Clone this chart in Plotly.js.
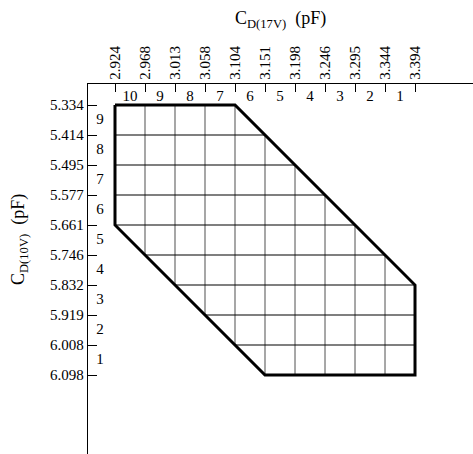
<!DOCTYPE html>
<html>
<head>
<meta charset="utf-8">
<script src="https://cdn.plot.ly/plotly-3.0.1.min.js"></script>
<style>html,body{margin:0;padding:0;background:#fff;}#chart{width:473px;height:454px;}</style>
</head>
<body>
<div id="chart"></div>
<script>
// Tick labels (capacitance values, pF)
const xTicks = ['2.924','2.968','3.013','3.058','3.104','3.151','3.198','3.246','3.295','3.344','3.394'];
const yTicks = ['5.334','5.414','5.495','5.577','5.661','5.746','5.832','5.919','6.008','6.098'];
// Cell numbers between ticks
const xCells = ['10','9','8','7','6','5','4','3','2','1'];
const yCells = ['9','8','7','6','5','4','3','2','1'];
// Outline of the allowed region (vertices, as tick values)
const outlineX = ['2.924','3.104','3.394','3.394','3.151','2.924','2.924'];
const outlineY = ['5.334','5.334','5.832','6.098','6.098','5.661','5.334'];

const FONT = 'Liberation Serif, Times New Roman, serif';
const xi = v => xTicks.indexOf(v);
const yi = v => yTicks.indexOf(v);
const px = outlineX.map(xi), py = outlineY.map(yi);

// clip a vertical line x=c (or horizontal y=c) to the convex outline
function clip(c, vertical) {
  const a = vertical ? px : py, b = vertical ? py : px;
  let lo = Infinity, hi = -Infinity;
  for (let k = 0; k < a.length - 1; k++) {
    const a0 = a[k], a1 = a[k+1], b0 = b[k], b1 = b[k+1];
    if (a0 === a1) { if (a0 === c) { lo = Math.min(lo, b0, b1); hi = Math.max(hi, b0, b1); } continue; }
    const t = (c - a0) / (a1 - a0);
    if (t >= 0 && t <= 1) { const v = b0 + t * (b1 - b0); lo = Math.min(lo, v); hi = Math.max(hi, v); }
  }
  return lo <= hi ? [lo, hi] : null;
}
const vx = [], vy = [], hx = [], hy = [];
xTicks.forEach((t, i) => { const r = clip(i, true); if (r) { vx.push(i, i, null); vy.push(r[0], r[1], null); } });
yTicks.forEach((t, j) => { const r = clip(j, false); if (r) { hy.push(j, j, null); hx.push(r[0], r[1], null); } });

const traces = [
  {x: vx, y: vy, mode: 'lines', line: {color: '#777', width: 1.3}, hoverinfo: 'skip', showlegend: false},
  {x: hx, y: hy, mode: 'lines', line: {color: '#000', width: 1.2}, hoverinfo: 'skip', showlegend: false},
  {x: px, y: py, mode: 'lines', line: {color: '#000', width: 3}, hoverinfo: 'skip', showlegend: false},
  {x: xCells.map((c, i) => i + 0.5), y: xCells.map(() => -0.27), text: xCells, mode: 'text',
   textfont: {family: FONT, size: 15, color: '#000'}, cliponaxis: false, hoverinfo: 'skip', showlegend: false},
  {x: yCells.map(() => -0.5), y: yCells.map((c, j) => j + 0.5), text: yCells, mode: 'text',
   textfont: {family: FONT, size: 15, color: '#000'}, cliponaxis: false, hoverinfo: 'skip', showlegend: false}
];

const layout = {
  width: 473, height: 454,
  margin: {l: 88, r: 0, t: 84, b: 0},
  paper_bgcolor: '#fff', plot_bgcolor: '#fff',
  font: {family: FONT, color: '#000', size: 15},
  xaxis: {side: 'top', range: [-0.9, 11.933], tickvals: xTicks.map((t, i) => i), ticktext: xTicks,
    tickangle: -90, ticks: 'inside', ticklen: 8, tickcolor: '#000', tickwidth: 1,
    showline: true, linecolor: '#000', linewidth: 1.2, showgrid: false, zeroline: false,
    tickfont: {family: FONT, size: 15}},
  yaxis: {range: [11.633, -0.7], tickvals: yTicks.map((t, j) => j), ticktext: yTicks,
    ticks: 'inside', ticklen: 9, tickcolor: '#000', tickwidth: 1,
    showline: true, linecolor: '#000', linewidth: 1.2, showgrid: false, zeroline: false,
    tickfont: {family: FONT, size: 15}},
  annotations: [
    {text: 'C<sub>D(17V)</sub>\u00a0\u00a0(pF)', xref: 'paper', yref: 'paper', x: 0.501, y: 1 + (84 - 19) / 370,
     xanchor: 'center', yanchor: 'middle', showarrow: false, font: {family: FONT, size: 18}},
    {text: 'C<sub>D(10V)</sub>\u00a0\u00a0(pF)', xref: 'paper', yref: 'paper', x: (19 - 88) / 385, y: 1 - (240 - 84) / 370,
     xanchor: 'center', yanchor: 'middle', textangle: -90, showarrow: false, font: {family: FONT, size: 18}}
  ],
  showlegend: false
};
Plotly.newPlot('chart', traces, layout, {displayModeBar: false, staticPlot: true});
</script>
</body>
</html>
